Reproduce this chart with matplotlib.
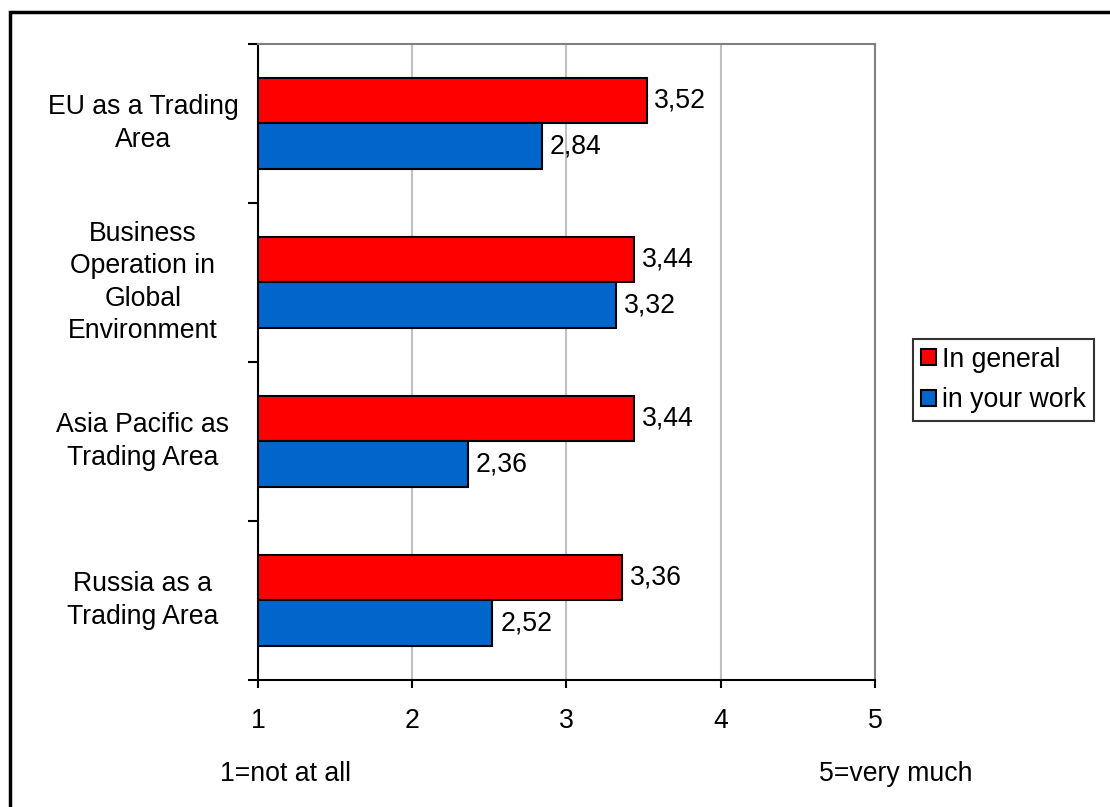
import numpy as np
import matplotlib.pyplot as plt
from matplotlib.patches import Rectangle

plt.rcParams['font.family'] = ['Liberation Sans', 'DejaVu Sans']

categories = ['EU as a Trading\nArea',
              'Business\nOperation in\nGlobal\nEnvironment',
              'Asia Pacific as\nTrading Area',
              'Russia as a\nTrading Area']
in_general = [3.52, 3.44, 3.44, 3.36]
in_your_work = [2.84, 3.32, 2.36, 2.52]
series_names = ['In general', 'in your work']

FS = 19.2

fig = plt.figure(figsize=(11.1, 8.07), dpi=100)
ax = fig.add_axes([0.2324, 0.1574, 0.5559, 0.7881])

# outer frame round the chart
fig.patches.append(Rectangle((10 / 1110, -0.05), 1.2, 1 - 12 / 807 + 0.05,
                             transform=fig.transFigure, fill=False,
                             edgecolor='black', linewidth=2.5))

y = np.arange(len(categories))[::-1]
h = 0.285
red = ax.barh(y + h / 2, np.array(in_general) - 1, h, left=1,
              color='#FF0000', edgecolor='black', linewidth=1.5,
              label=series_names[0], zorder=3)
blue = ax.barh(y - h / 2, np.array(in_your_work) - 1, h, left=1,
               color='#0066CC', edgecolor='black', linewidth=1.5,
               label=series_names[1], zorder=3)

for bars, vals in ((red, in_general), (blue, in_your_work)):
    for b, v in zip(bars, vals):
        ax.text(v + 0.05, b.get_y() + b.get_height() / 2,
                f'{v:.2f}'.replace('.', ','), va='center', ha='left',
                fontsize=FS)

ax.set_xlim(1, 5)
ax.set_ylim(-0.5, len(categories) - 0.5)
ax.set_xticks([1, 2, 3, 4, 5])
ax.tick_params(axis='x', length=6, width=1.5, labelsize=FS, pad=14)
ax.xaxis.grid(True, color='#C0C0C0', linewidth=1.5, zorder=0)

# category labels centred, ticks at the boundaries
ax.set_yticks(np.arange(-0.5, len(categories), 1))
ax.set_yticklabels([])
ax.tick_params(axis='y', length=7, width=1.5)
for yi, c in zip(y, categories):
    ax.text(-0.1865, (yi + 0.5) / len(categories), c, ha='center',
            va='center', fontsize=FS, transform=ax.transAxes,
            linespacing=1.32)

for s in ('top', 'right'):
    ax.spines[s].set_color('#808080')
    ax.spines[s].set_linewidth(1.5)
for s in ('left', 'bottom'):
    ax.spines[s].set_linewidth(1.5)

fig.text(286 / 1110, 1 - 774 / 807, '1=not at all', ha='center',
         va='center', fontsize=FS)
fig.text(896 / 1110, 1 - 774 / 807, '5=very much', ha='center',
         va='center', fontsize=FS)

leg = fig.legend(handles=[red, blue], loc='center left',
                 bbox_to_anchor=(913 / 1110, 1 - 380 / 807), fontsize=FS,
                 frameon=True, fancybox=False, edgecolor='black',
                 handlelength=0.55, handleheight=0.55, handletextpad=0.25,
                 borderpad=0.3, labelspacing=0.55, borderaxespad=0)
leg.get_frame().set_linewidth(1.5)

fig.savefig('out.png', dpi=100, facecolor='white')
